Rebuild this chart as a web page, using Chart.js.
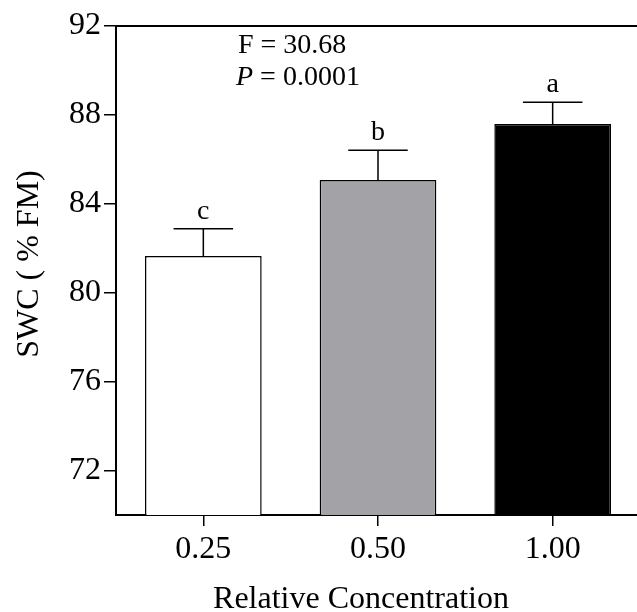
<!DOCTYPE html>
<html>
<head>
<meta charset="utf-8">
<script src="https://cdn.jsdelivr.net/npm/chart.js@4.4.1/dist/chart.umd.min.js"></script>
<style>
  html, body { margin: 0; padding: 0; background: #fff; overflow: hidden; }
  #wrap { width: 645px; height: 612px; }
</style>
</head>
<body>
<div id="wrap"><canvas id="myChart" width="645" height="612"></canvas></div>
<script>
// data
const categories = ['0.25', '0.50', '1.00'];
const swcMeans = [81.65, 85.07, 87.59];
const swcErrors = [1.23, 1.34, 0.98];
const letters = ['c', 'b', 'a'];
const barColors = ['#ffffff', '#a3a2a7', '#000000'];
const yTicks = [72, 76, 80, 84, 88, 92];
const statF = 'F = 30.68';
const statP = ' = 0.0001';

const serif = "'Liberation Serif', 'Times New Roman', serif";

// error bars, letters, box and titles
const extras = {
    id: 'extras',
    afterDatasetsDraw(chart) {
        const ctx = chart.ctx;
        const y = chart.scales.y;
        const area = chart.chartArea;
        const bars = chart.getDatasetMeta(0).data;
        ctx.save();
        ctx.strokeStyle = '#000';
        ctx.lineWidth = 1.5;
        bars.forEach((bar, i) => {
            const top = y.getPixelForValue(swcMeans[i]);
            const hi = y.getPixelForValue(swcMeans[i] + swcErrors[i]);
            const half = bar.width * 0.255;
            ctx.beginPath();
            ctx.moveTo(bar.x, top);
            ctx.lineTo(bar.x, hi);
            ctx.moveTo(bar.x - half, hi);
            ctx.lineTo(bar.x + half, hi);
            ctx.stroke();
            ctx.fillStyle = '#000';
            ctx.font = '28px ' + serif;
            ctx.textAlign = 'center';
            ctx.textBaseline = 'alphabetic';
            ctx.fillText(letters[i], bar.x, hi - 10);
        });

        // top and right frame
        ctx.lineWidth = 2;
        ctx.beginPath();
        ctx.moveTo(area.left, area.top);
        ctx.lineTo(area.right, area.top);
        ctx.lineTo(area.right, area.bottom);
        ctx.stroke();

        // statistics
        ctx.fillStyle = '#000';
        ctx.textAlign = 'left';
        ctx.font = '28px ' + serif;
        ctx.fillText(statF, area.left + 122, 53);
        ctx.font = 'italic 28px ' + serif;
        ctx.fillText('P', area.left + 120, 85);
        const pw = ctx.measureText('P').width;
        ctx.font = '28px ' + serif;
        ctx.fillText(statP, area.left + 120 + pw, 85);

        // axis titles
        ctx.font = '32px ' + serif;
        ctx.textAlign = 'center';
        ctx.fillText('Relative Concentration', 361, 608);
        ctx.translate(38, 264);
        ctx.rotate(-Math.PI / 2);
        ctx.fillText('SWC ( % FM)', 0, 0);
        ctx.restore();
    }
};

const config = {
    type: 'bar',
    data: {
        labels: categories,
        datasets: [{
            data: swcMeans,
            backgroundColor: barColors,
            borderColor: '#000',
            borderWidth: 1.5,
            borderSkipped: 'bottom',
            categoryPercentage: 1,
            barPercentage: 0.668
        }]
    },
    options: {
        responsive: false,
        animation: false,
        devicePixelRatio: 1,
        layout: { padding: { left: 0, right: 5, top: 26, bottom: 0 } },
        plugins: {
            legend: { display: false },
            tooltip: { enabled: false }
        },
        scales: {
            x: {
                grid: { display: true, offset: false, drawOnChartArea: false, tickLength: 11, lineWidth: 1.5, color: '#000' },
                border: { display: true, color: '#000', width: 2 },
                ticks: { color: '#000', padding: 4, font: { family: serif, size: 32 } },
                afterFit(scale) { scale.height = 97; }
            },
            y: {
                min: 70,
                max: 92,
                afterBuildTicks(scale) { scale.ticks = yTicks.map(v => ({ value: v })); },
                grid: { display: true, drawOnChartArea: false, tickLength: 12, lineWidth: 1.5, color: '#000' },
                border: { display: true, color: '#000', width: 2 },
                ticks: { color: '#000', padding: 3, font: { family: serif, size: 32 } },
                afterFit(scale) { scale.width = 116; }
            }
        }
    },
    plugins: [extras]
};

const myChart = new Chart(document.getElementById('myChart'), config);
</script>
</body>
</html>
